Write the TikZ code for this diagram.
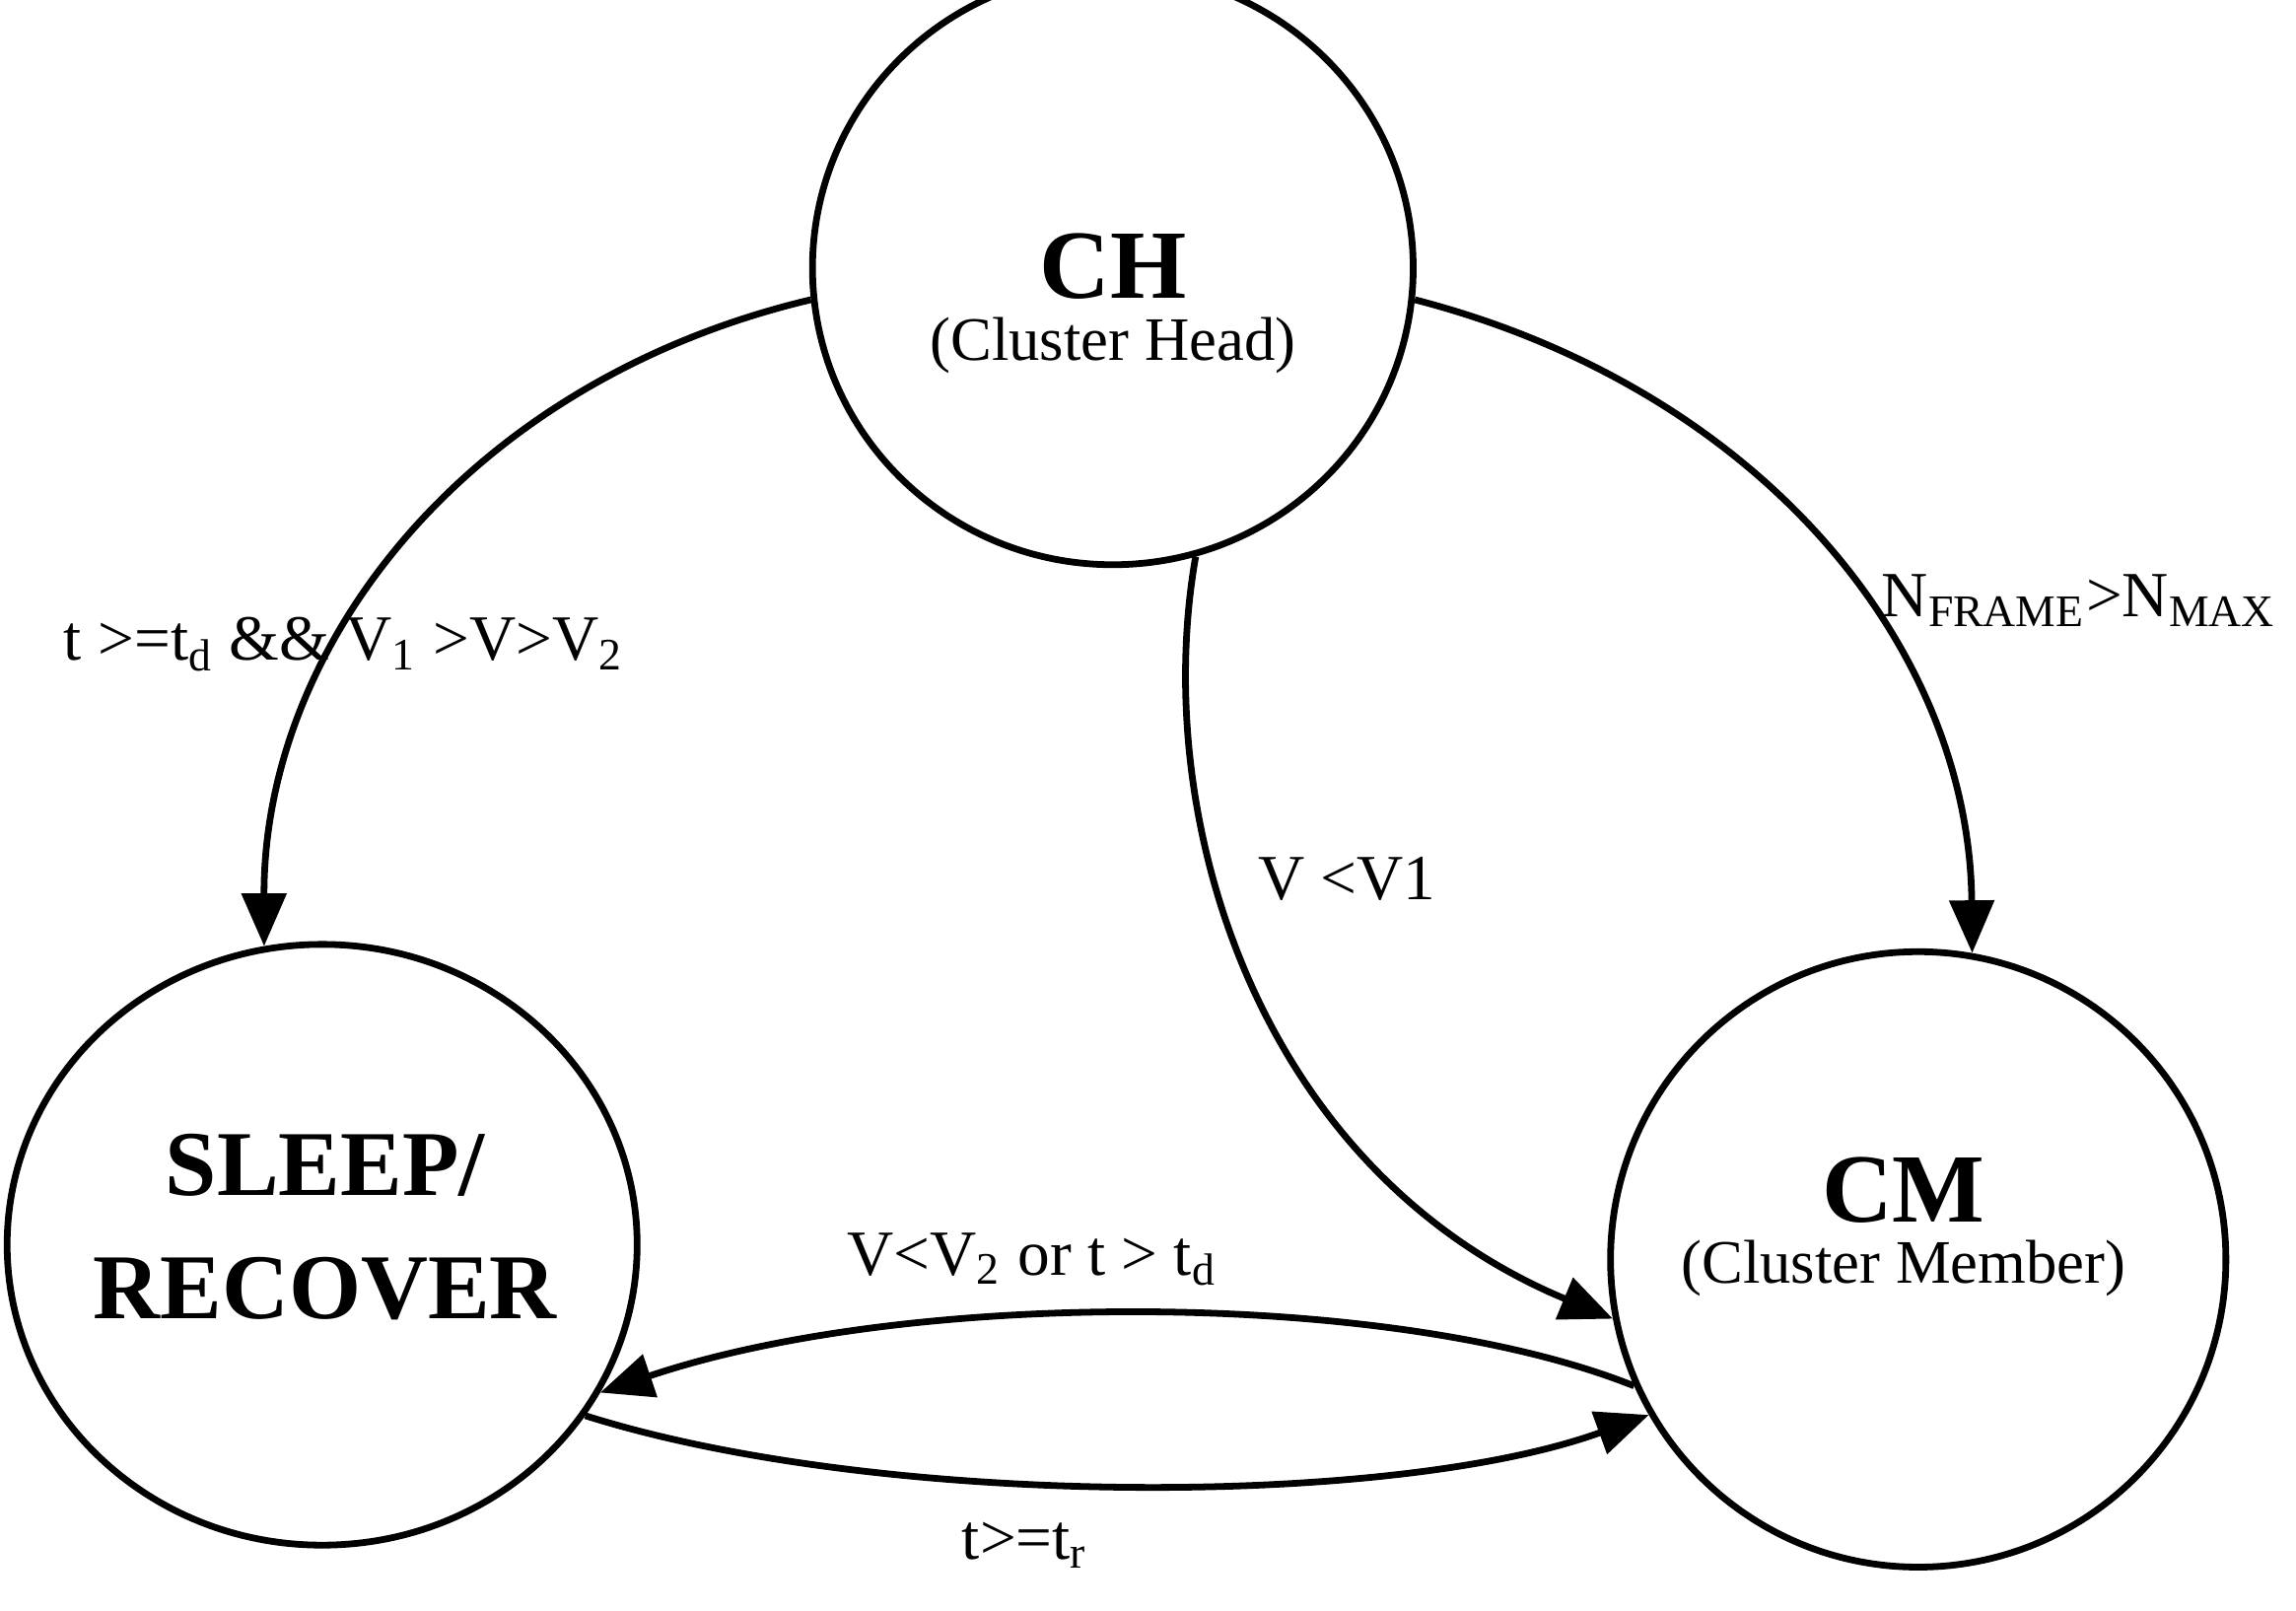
\documentclass[tikz,border=0pt]{standalone}
\usepackage{fontspec}
\setmainfont{Liberation Serif}
\usetikzlibrary{shapes.geometric,arrows.meta}
\begin{document}
\begin{tikzpicture}[x=0.01cm,y=-0.01cm,
  st/.style={draw,line width=1.3pt,ellipse,inner sep=0pt,align=center},
  tr/.style={line width=1.3pt,-{Triangle[length=0.36cm,width=0.3cm]}},
  lb/.style={font=\fontsize{12.5pt}{14pt}\selectfont}]
\useasboundingbox (0,0) rectangle (1568,1100);
\node[st,minimum width=4.1cm,minimum height=4.05cm] (ch) at (760,183) {};
\node[font=\bfseries\fontsize{19pt}{21pt}\selectfont] (cht) at (760,182) {CH};
\node[font=\fontsize{12pt}{14pt}\selectfont] (chs) at (760,236) {(Cluster Head)};
\node[st,minimum width=4.3cm,minimum height=4.1cm] (sl) at (220,850) {};
\node[font=\bfseries\fontsize{18pt}{24pt}\selectfont,align=center] (slt) at (222,838) {SLEEP/\\RECOVER};
\node[st,minimum width=4.2cm,minimum height=4.2cm] (cm) at (1310,860) {};
\node[font=\bfseries\fontsize{19pt}{21pt}\selectfont] (cmt) at (1300,813) {CM};
\node[font=\fontsize{12pt}{14pt}\selectfont] (cms) at (1300,866) {(Cluster Member)};
\draw[tr] (ch.186) .. controls (320,260) and (180,440) .. (sl.101);
\draw[tr] (ch.-6) .. controls (1200,265) and (1345,440) .. (cm.80);
\draw[tr] (ch.-74) .. controls (785,560) and (860,800) .. (cm.191);
\draw[tr] (cm.204) .. controls (950,880) and (620,880) .. (sl.-28);
\draw[tr] (sl.-33) .. controls (600,1030) and (950,1030) .. (cm.210);
\node[lb] (l1) at (235,440) {t >=t\textsubscript{d} \&\& V\textsubscript{1} >V>V\textsubscript{2}};
\node[lb] (l2) at (1420,410) {N\textsubscript{FRAME}>N\textsubscript{MAX}};
\node[lb] (l3) at (920,600) {V <V1};
\node[lb] (l4) at (705,860) {V<V\textsubscript{2} or t > t\textsubscript{d}};
\node[lb] (l5) at (700,1055) {t>=t\textsubscript{r}};
\end{tikzpicture}
\end{document}
